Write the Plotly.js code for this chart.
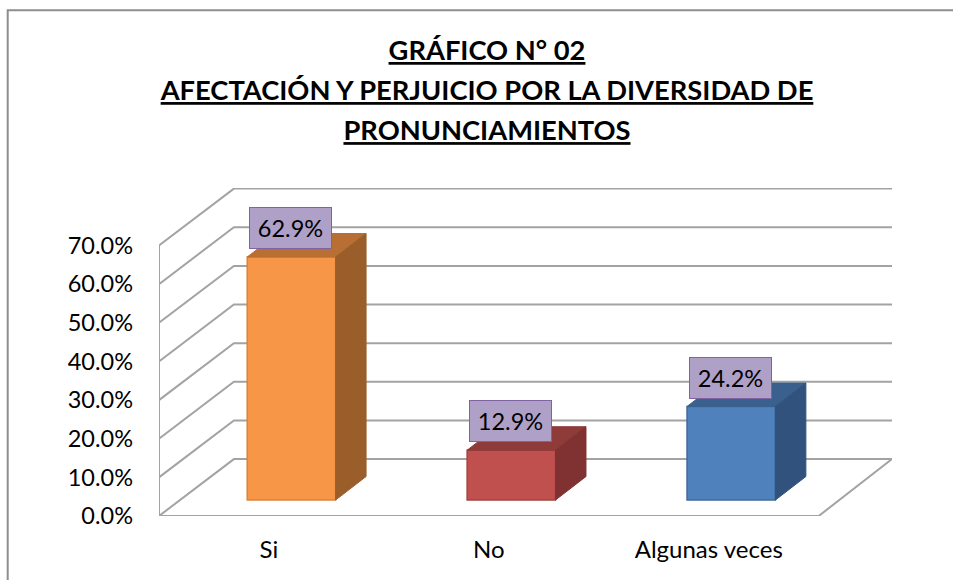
<!DOCTYPE html>
<html>
<head>
<meta charset="utf-8">
<script src="https://cdn.plot.ly/plotly-3.0.1.min.js"></script>
<style>html,body{margin:0;padding:0;background:#fff;overflow:hidden}</style>
</head>
<body>
<div id="chart" style="width:953px;height:580px"></div>
<script>
var categories = ["Si", "No", "Algunas veces"];
var percentValues = [62.9, 12.9, 24.2];
var axisTicks = [0, 10, 20, 30, 40, 50, 60, 70];
var frontColors = ["#F79646", "#C0504D", "#4F81BD"];
var edgeColors = ["#D9843F", "#A34441", "#41699B"];
var topColors = ["#B86F33", "#8F3B39", "#3A608E"];
var sideColors = ["#9A5E2B", "#7F3231", "#30527C"];
var titleLines = ["GRÁFICO N° 02", "AFECTACIÓN Y PERJUICIO POR LA DIVERSIDAD DE", "PRONUNCIAMIENTOS"];

// geometry (axis units) of the pseudo-3D box
var W = 953, H = 580;
var plotL = 158.5, plotR = 892.5, plotT = 188, plotB = 516.5;
var pxPerCat = 220.2, pxPerPct = 3.87;
var xMin = -0.5, xMax = xMin + (plotR - plotL) / pxPerCat;
var yMax = (plotB - plotT) / pxPerPct;
var wallDX = 75 / pxPerCat, wallDY = 57 / pxPerPct;
var barDX = 22.5 / pxPerCat, barBase = 16 / pxPerPct, barW = 88.5 / pxPerCat;
var sideDX = 30.5 / pxPerCat, sideDY = 23.5 / pxPerPct;
var labelDY = 29 / pxPerPct;
var gridColor = "#A3A3A3";

function pathOf(pts) {
  return pts.map(function (p, i) { return (i ? "L" : "M") + p[0] + "," + p[1]; }).join(" ");
}
var shapes = [];
function gridShape(pts) {
  shapes.push({type: "path", xref: "x", yref: "y", layer: "below", path: pathOf(pts),
    line: {color: gridColor, width: 2}});
}
axisTicks.forEach(function (v) {
  if (v > 0) gridShape([[xMin, v], [xMin + wallDX, v + wallDY], [xMax, v + wallDY]]);
});
// floor and front axis
gridShape([[xMin, 0], [xMin + 3, 0], [xMax, wallDY], [xMin + wallDX, wallDY], [xMin, 0]]);
gridShape([[xMin, 0], [xMin, axisTicks[axisTicks.length - 1]]]);
// outer chart frame, running off the right and bottom of the picture
shapes.push({type: "rect", xref: "paper", yref: "paper", layer: "below",
  x0: (7 - plotL) / (plotR - plotL), x1: (W + 10 - plotL) / (plotR - plotL),
  y0: (plotB - H - 10) / (plotB - plotT), y1: (plotB - 10) / (plotB - plotT),
  line: {color: "#8E8E8E", width: 2}, fillcolor: "rgba(0,0,0,0)"});

function face(xs, ys, fill, edge) {
  return {type: "scatter", mode: "lines", x: xs, y: ys, fill: "toself", fillcolor: fill,
    line: {color: edge, width: 1}, hoverinfo: "skip", showlegend: false};
}
var barX = categories.map(function (c, i) { return i + barDX; });
var traces = [{
  type: "bar", x: barX, y: percentValues,
  base: percentValues.map(function () { return barBase; }),
  width: barW, marker: {color: frontColors, line: {color: edgeColors, width: 1.5}},
  hoverinfo: "skip", showlegend: false
}];
percentValues.forEach(function (v, i) {
  var l = barX[i] - barW / 2, r = barX[i] + barW / 2, t = barBase + v, b = barBase;
  traces.push(face([l, r, r + sideDX, l + sideDX, l], [t, t, t + sideDY, t + sideDY, t], topColors[i], topColors[i]));
  traces.push(face([r, r + sideDX, r + sideDX, r, r], [t, t + sideDY, b + sideDY, b, t], sideColors[i], sideColors[i]));
});

var annotations = percentValues.map(function (v, i) {
  return {
    xref: "x", yref: "y", x: barX[i] - 0.002, y: barBase + v + labelDY,
    text: v.toFixed(1) + "%", showarrow: false, xanchor: "center", yanchor: "middle",
    width: 79, height: 38, align: "center", valign: "middle",
    bgcolor: "#AFA0C7", bordercolor: "#8064A2", borderwidth: 1,
    font: {family: "Lato, sans-serif", size: 23.5, color: "#000"}
  };
});

var layout = {
  width: W, height: H,
  margin: {l: plotL, r: W - plotR, t: plotT, b: H - plotB, pad: 0},
  paper_bgcolor: "#fff", plot_bgcolor: "rgba(0,0,0,0)",
  font: {family: "Lato, sans-serif", size: 23.5, color: "#000"},
  title: {
    text: titleLines.map(function (t) {
      return '<span style="font-size:27.3px"><b><u>' + t + '</u></b></span>';
    }).join("<br>"),
    x: 487 / W, xref: "container", xanchor: "center",
    y: 1 - 60 / H, yref: "container", yanchor: "top",
    font: {family: "Lato, sans-serif", size: 30.8, color: "#000"}
  },
  xaxis: {
    range: [xMin, xMax], tickmode: "array", tickvals: [0, 1, 2], ticktext: categories,
    showgrid: false, zeroline: false, showline: false, ticks: "", ticklabelstandoff: 17,
    tickfont: {family: "Lato, sans-serif", size: 24, color: "#000"}, fixedrange: true
  },
  yaxis: {
    range: [0, yMax], tickmode: "array", tickvals: axisTicks,
    ticktext: axisTicks.map(function (v) { return v.toFixed(1) + "%"; }),
    showgrid: false, zeroline: false, showline: false, ticks: "", ticklabelstandoff: 25,
    tickfont: {family: "Lato, sans-serif", size: 23.5, color: "#000"}, fixedrange: true
  },
  shapes: shapes, annotations: annotations, showlegend: false
};
Plotly.newPlot("chart", traces, layout, {displayModeBar: false, staticPlot: true});
</script>
</body>
</html>
